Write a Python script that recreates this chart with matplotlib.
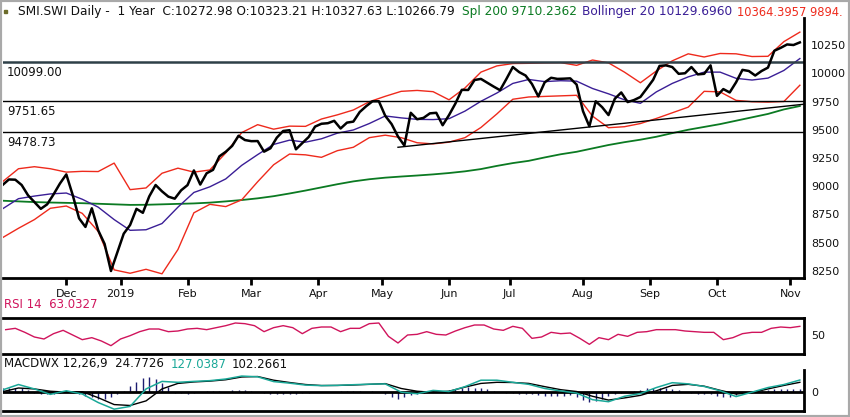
import numpy as np
import pandas as pd
import matplotlib
matplotlib.use('Agg')
import matplotlib.pyplot as plt
from matplotlib.patches import Rectangle

# trading calendar (SIX holidays removed)
holidays = ['2018-12-24', '2018-12-25', '2018-12-26', '2018-12-31', '2019-01-01', '2019-01-02',
            '2019-04-19', '2019-04-22', '2019-05-01', '2019-05-30', '2019-06-10', '2019-08-01']
dates = pd.bdate_range('2018-11-05', '2019-11-06', freq='C', holidays=holidays)

# close, every 2nd trading day
close = [9011, 9060, 9058, 9011, 8920, 8860, 8800, 8840, 8928, 9024,
         9105, 8923, 8716, 8640, 8805, 8610, 8490, 8250, 8415, 8580,
         8657, 8800, 8765, 8910, 9011, 8955, 8908, 8890, 8964, 9010,
         9140, 9015, 9115, 9145, 9265, 9305, 9357, 9447, 9409, 9399,
         9400, 9306, 9336, 9430, 9489, 9496, 9327, 9382, 9436, 9528,
         9553, 9558, 9579, 9511, 9563, 9572, 9657, 9708, 9752, 9752,
         9623, 9550, 9440, 9360, 9650, 9593, 9605, 9645, 9650, 9540,
         9630, 9732, 9853, 9852, 9940, 9950, 9916, 9882, 9850, 9950,
         10055, 10010, 9980, 9905, 9795, 9920, 9960, 9950, 9952, 9955,
         9900, 9665, 9530, 9752, 9700, 9630, 9775, 9830, 9745, 9763,
         9790, 9865, 9942, 10065, 10070, 10055, 9995, 10000, 10055, 9990,
         9995, 10070, 9800, 9860, 9830, 9920, 10030, 10020, 9980, 10020,
         10050, 10199, 10225, 10255, 10250, 10273]

# indicators, every 5th trading day
bb_upper = [9040, 9155, 9173, 9155, 9125, 9132, 9130, 9205, 8970, 8985,
            9115, 9160, 9125, 9144, 9295, 9475, 9545, 9505, 9532, 9530,
            9595, 9632, 9675, 9748, 9796, 9840, 9848, 9837, 9765, 9870,
            10010, 10065, 10086, 10088, 10092, 10094, 10070, 10117, 10092, 10010,
            9916, 10020, 10110, 10172, 10144, 10175, 10172, 10148, 10150, 10280,
            10364]
bb_lower = [8545, 8628, 8705, 8805, 8825, 8760, 8600, 8260, 8230, 8265,
            8225, 8440, 8765, 8840, 8820, 8880, 9040, 9190, 9285, 9278,
            9256, 9315, 9345, 9430, 9452, 9430, 9385, 9375, 9390, 9430,
            9520, 9640, 9770, 9790, 9795, 9800, 9805, 9620, 9518, 9527,
            9555, 9600, 9650, 9700, 9840, 9835, 9760, 9748, 9745, 9750,
            9894]
bb_mid = [8800, 8890, 8913, 8932, 8940, 8885, 8815, 8705, 8610, 8615,
          8670, 8815, 8945, 8995, 9065, 9185, 9280, 9370, 9408, 9390,
          9420, 9470, 9498, 9555, 9622, 9605, 9592, 9590, 9598, 9665,
          9752, 9825, 9910, 9945, 9926, 9934, 9930, 9865, 9818, 9765,
          9734, 9835, 9910, 9968, 10010, 10010, 9955, 9940, 9957, 10025,
          10130]
sma200 = [8872, 8866, 8860, 8856, 8853, 8850, 8845, 8840, 8835, 8836,
          8840, 8844, 8848, 8855, 8866, 8878, 8893, 8912, 8936, 8962,
          8990, 9018, 9043, 9062, 9076, 9086, 9095, 9105, 9117, 9132,
          9152, 9180, 9205, 9225, 9255, 9283, 9305, 9335, 9365, 9390,
          9412, 9438, 9470, 9500, 9525, 9550, 9580, 9610, 9640, 9680,
          9710]

levels = [10099.00, 9751.65, 9478.73]
trend_dates = ['2019-05-09', '2019-11-06']
trend_vals = [9345, 9722]

# RSI 14, every 3rd trading day starting at day 1
rsi = [58, 60, 54, 47, 44, 52, 57, 50, 43, 46, 41, 34, 44, 49, 55, 59, 59, 55, 56, 59,
       60, 58, 61, 64, 68, 67, 64, 55, 61, 64, 61, 52, 60, 62, 62, 55, 60, 60, 67, 68,
       48, 38, 50, 51, 55, 51, 50, 56, 61, 65, 65, 59, 57, 63, 60, 45, 47, 54, 52, 53,
       45, 36, 46, 43, 51, 48, 54, 55, 58, 58, 58, 56, 55, 54, 54, 43, 46, 52, 54, 54,
       60, 62, 61, 63]

# MACD 12,26,9, every 5th trading day
macd = [19, 78, 30, -29, 10, -25, -118, -190, -160, 30,
        112, 102, 112, 120, 138, 170, 162, 110, 93, 72,
        66, 69, 76, 82, 85, -5, -22, 14, 2, 55,
        125, 125, 102, 80, 35, 8, -15, -87, -109, -50,
        -20, 45, 98, 85, 57, 10, -53, -5, 45, 78,
        127]
signal = [0, 40, 30, 5, -5, 0, -65, -140, -150, -100,
          30, 90, 106, 115, 130, 160, 165, 125, 100, 78,
          67, 68, 73, 80, 88, 35, 5, -7, 5, 50,
          90, 102, 100, 90, 55, 22, 2, -50, -91, -68,
          -40, 10, 68, 80, 60, 15, -25, -10, 30, 68,
          102]
# histogram, every 2nd trading day
hist = [40, 45, 40, 35, 20, -10, -25, -30, -25, -15,
        10, 5, -30, -45, -60, -75, -80, -60, -30, 10,
        60, 110, 150, 160, 140, 100, 50, -10, -15, -20,
        -10, -5, 5, 10, 5, 0, 15, 20, 20, 10,
        0, -15, -25, -30, -30, -25, -20, -15, -10, -5,
        -5, 0, 0, 5, 5, 5, 5, 0, 5, 0,
        -30, -60, -75, -60, -40, -25, -10, 5, 10, 5,
        15, 30, 45, 50, 45, 35, 25, 10, 0, -10,
        -15, -20, -20, -25, -35, -45, -50, -50, -45, -35,
        -60, -90, -110, -100, -80, -50, -25, -10, 0, 10,
        20, 35, 45, 45, 40, 25, 15, 0, -10, -20,
        -25, -30, -45, -55, -55, -40, -25, -10, 0, 10,
        20, 25, 30, 30, 28, 25]

header = 'SMI.SWI Daily -  1 Year  C:10272.98 O:10323.21 H:10327.63 L:10266.79'

RED = '#ee2a1c'
PURPLE = '#3a1e96'
GREEN = '#0b7a22'
TEAL = '#1aa898'
CRIMSON = '#d0145c'
NAVY = '#1c1c70'
FS = 8.7

x = np.arange(len(dates))
d2 = x[::2][:len(close)]
d3 = x[1::3][:len(rsi)]
d5 = x[::5][:len(sma200)]

# first trading day of each month from Dec
month_idx, month_lbl = [], []
for i in range(1, len(dates)):
    if dates[i].month != dates[i - 1].month:
        month_idx.append(i)
        month_lbl.append('2019' if dates[i].month == 1 else dates[i].strftime('%b'))

W, H = 850, 417
fig = plt.figure(figsize=(W / 100, H / 100), dpi=100)


def box(l, t, r, b):
    return [l / W, 1 - b / H, (r - l) / W, (b - t) / H]


XL = (0.15, 251.3)

ax = fig.add_axes(box(3, 18, 804, 278))
ax.plot(d5, sma200, color=GREEN, lw=1.3)
ax.plot(d5, bb_upper, color=RED, lw=1)
ax.plot(d5, bb_lower, color=RED, lw=1)
ax.plot(d5, bb_mid, color=PURPLE, lw=1)
for lv, c, w in zip(levels, ['#2e4048', 'k', 'k'], [1.8, 1, 1]):
    ax.axhline(lv, color=c, lw=w)
    ax.annotate(f'{lv:.2f}', xy=(0, lv), xycoords=('axes fraction', 'data'),
                xytext=(3, -3), textcoords='offset points', va='top', fontsize=8.5, color='#111')
t0 = dates.get_loc(pd.Timestamp(trend_dates[0]))
t1 = dates.get_loc(pd.Timestamp(trend_dates[1]))
slope = (trend_vals[1] - trend_vals[0]) / (t1 - t0)
ax.plot([t0, XL[1]], [trend_vals[0], trend_vals[0] + slope * (XL[1] - t0)], color='k', lw=1)
ax.plot(d2, close, color='k', lw=1.8)
ax.set_xlim(*XL)
ax.set_ylim(8188, 10489)
ax.set_yticks(np.arange(8250, 10251, 250))
ax.yaxis.tick_right()
ax.tick_params(axis='y', length=0, pad=5, labelsize=8, labelcolor='#111')
ax.set_xticks(month_idx)
ax.set_xticklabels(month_lbl)
ax.tick_params(axis='x', direction='out', length=5, width=2, pad=3, labelsize=8, labelcolor='#111')
for s in ['top', 'left']:
    ax.spines[s].set_visible(False)
for s in ['right', 'bottom']:
    ax.spines[s].set_linewidth(2)

ax_rsi = fig.add_axes(box(3, 318, 804, 354))
ax_rsi.plot(d3, rsi, color=CRIMSON, lw=1)
ax_rsi.set_xlim(*XL)
ax_rsi.set_ylim(21.5, 75.5)
ax_rsi.set_xticks([])
ax_rsi.set_yticks([50])
ax_rsi.yaxis.tick_right()
ax_rsi.tick_params(axis='y', length=0, pad=5, labelsize=8, labelcolor='#111')
ax_rsi.spines['left'].set_visible(False)
for s in ['top', 'bottom', 'right']:
    ax_rsi.spines[s].set_linewidth(2)

ax_macd = fig.add_axes(box(3, 370, 804, 411))
ax_macd.vlines(d2, 0, hist, color=NAVY, lw=1)
ax_macd.axhline(0, color='k', lw=2)
ax_macd.plot(d5, signal, color='k', lw=1)
ax_macd.plot(d5, macd, color=TEAL, lw=1.1)
ax_macd.set_xlim(*XL)
ax_macd.set_ylim(-210, 236)
ax_macd.set_xticks([])
ax_macd.set_yticks([0])
ax_macd.yaxis.tick_right()
ax_macd.tick_params(axis='y', length=0, pad=5, labelsize=8, labelcolor='#111')
for s in ['top', 'left']:
    ax_macd.spines[s].set_visible(False)
for s in ['bottom', 'right']:
    ax_macd.spines[s].set_linewidth(2)

# header and panel captions
fy = lambda py: 1 - py / H
fig.text(18 / W, fy(12), header, fontsize=FS, va='center', color='#111')
fig.text(462 / W, fy(12), 'Spl 200 9710.2362', fontsize=FS, va='center', color=GREEN)
fig.text(582 / W, fy(12), 'Bollinger 20 10129.6960', fontsize=FS, va='center', color=PURPLE)
fig.text(737 / W, fy(12), '10364.3957 9894.', fontsize=8.3, va='center', color=RED)
fig.add_artist(Rectangle((4 / W, fy(13)), 3 / W, 3 / H, color='#6b6b2a'))
fig.text(4 / W, fy(305), 'RSI 14  63.0327', fontsize=8.5, va='center', color=CRIMSON)
fig.text(4 / W, fy(364), 'MACDWX 12,26,9  24.7726', fontsize=8.5, va='center', color='#111')
fig.text(171 / W, fy(364), '127.0387', fontsize=8.5, va='center', color=TEAL)
fig.text(232 / W, fy(364), '102.2661', fontsize=8.5, va='center', color='#111')

fig.add_artist(Rectangle((0, 0), 1, 1, transform=fig.transFigure, fill=False,
                         edgecolor='#a9a9a9', lw=3))

fig.savefig('out.png', dpi=100)
